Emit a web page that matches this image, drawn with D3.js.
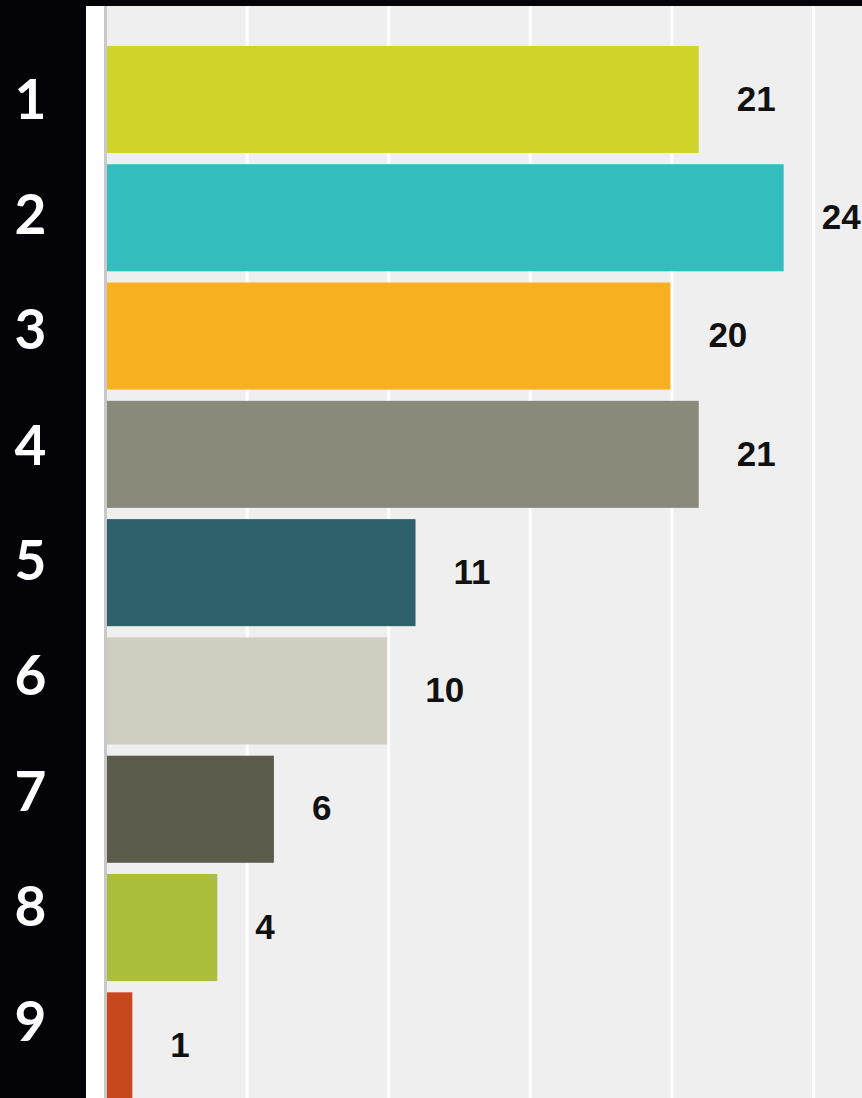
<!DOCTYPE html>
<html>
<head>
<meta charset="utf-8">
<script src="https://cdn.jsdelivr.net/npm/d3@7"></script>
<style>
  html, body { margin: 0; padding: 0; background: #ffffff; }
  svg { display: block; }
</style>
</head>
<body>
<div id="chart"></div>
<script>
// data
const categories = ["1", "2", "3", "4", "5", "6", "7", "8", "9"];
const values = [21, 24, 20, 21, 11, 10, 6, 4, 1];
const barColors = ["#d0d42a", "#33bdbf", "#f7b020", "#8a8a7a", "#2f616c",
                   "#cfcec1", "#5c5b4c", "#abbd3a", "#c8471c"];
const xTicks = [0, 5, 10, 15, 20, 25];

const data = categories.map((c, i) => ({ cat: c, value: values[i], color: barColors[i] }));

const width = 862, height = 1098;

const svg = d3.select("#chart")
    .append("svg")
    .attr("width", width)
    .attr("height", height);

// panels
svg.append("rect").attr("x", 0).attr("y", 0).attr("width", width).attr("height", height).attr("fill", "#ffffff");
svg.append("rect").attr("x", 107).attr("y", 0).attr("width", width - 107).attr("height", height).attr("fill", "#efefef");
svg.append("rect").attr("x", 0).attr("y", 0).attr("width", 86).attr("height", height).attr("fill", "#040408");
svg.append("rect").attr("x", 0).attr("y", 0).attr("width", width).attr("height", 6).attr("fill", "#040408");

const xScale = d3.scaleLinear()
    .domain([0, 25])
    .range([105, 813]);

const yScale = d3.scaleBand()
    .domain(categories)
    .range([40.3, 1105])
    .paddingInner(0.095)
    .paddingOuter(0.0475);

// the labels in the black strip are spaced a bit tighter than the bars
const labelScale = d3.scalePoint()
    .domain(categories)
    .range([99, 1021.5]);

// vertical grid lines
svg.append("g")
    .attr("class", "grid")
    .selectAll("line")
    .data(xTicks.filter(t => t > 0))
    .enter()
    .append("line")
    .attr("x1", d => xScale(d) + 0.5)
    .attr("x2", d => xScale(d) + 0.5)
    .attr("y1", 6)
    .attr("y2", height)
    .attr("stroke", "#ffffff")
    .attr("stroke-width", 3);

// bars
svg.append("g")
    .selectAll("rect")
    .data(data)
    .enter()
    .append("rect")
    .attr("x", xScale(0))
    .attr("y", d => yScale(d.cat))
    .attr("width", d => xScale(d.value) - xScale(0) - 1)
    .attr("height", yScale.bandwidth())
    .attr("fill", d => d.color);

// axis line
svg.append("line")
    .attr("x1", 105.5).attr("x2", 105.5)
    .attr("y1", 6).attr("y2", height)
    .attr("stroke", "#c8c8c8")
    .attr("stroke-width", 3);

// value labels
svg.append("g")
    .selectAll("text")
    .data(data)
    .enter()
    .append("text")
    .attr("x", d => xScale(d.value) + 37)
    .attr("y", d => yScale(d.cat) + yScale.bandwidth() / 2)
    .attr("dy", "0.32em")
    .attr("font-family", "'Liberation Sans', Arial, sans-serif")
    .attr("font-weight", "bold")
    .attr("font-size", 35)
    .attr("fill", "#111111")
    .text(d => d.value);

// category labels (white on black)
svg.append("g")
    .selectAll("text")
    .data(categories)
    .enter()
    .append("text")
    .attr("x", 30.5)
    .attr("y", d => labelScale(d))
    .attr("dy", "0.36em")
    .attr("text-anchor", "middle")
    .attr("font-family", "Lato, 'Open Sans', sans-serif")
    .attr("font-weight", "bold")
    .attr("font-size", 55)
    .attr("fill", "#ffffff")
    .text(d => d);
</script>
</body>
</html>
